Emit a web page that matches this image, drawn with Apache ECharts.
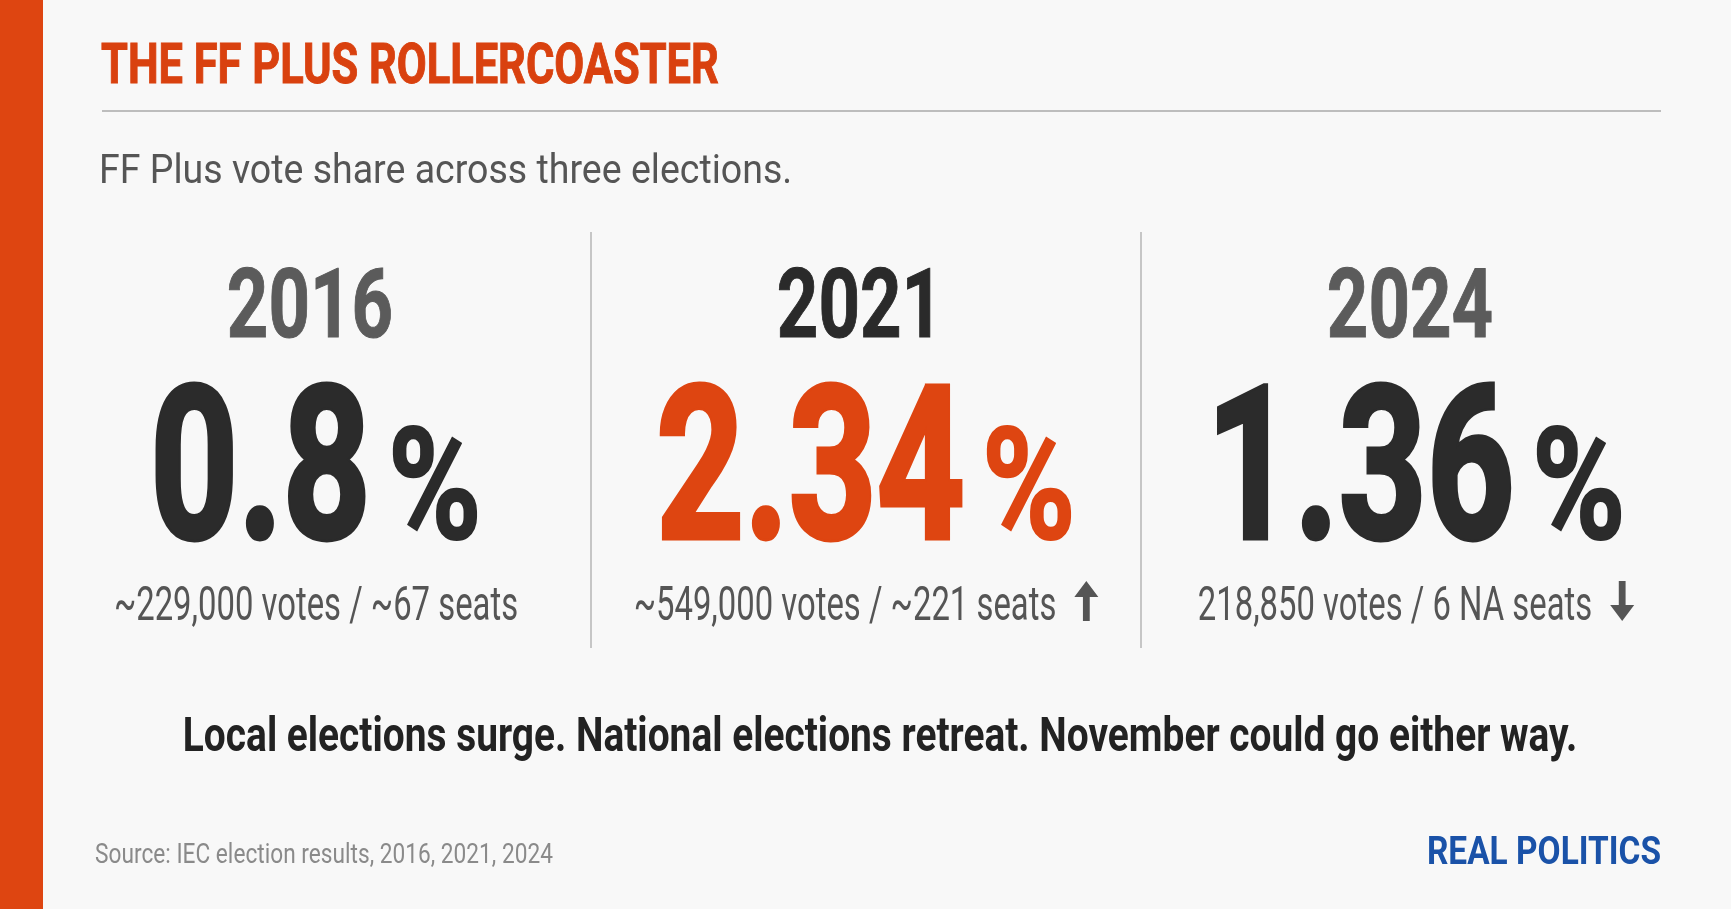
<!DOCTYPE html>
<html>
<head>
<meta charset="utf-8">
<script src="https://cdn.jsdelivr.net/npm/echarts@6/dist/echarts.min.js"></script>
<style>
html,body{margin:0;padding:0;background:#f8f8f8;}
#chart{width:1731px;height:909px;}
</style>
</head>
<body>
<div id="chart"></div>
<script>
// ---- data ----
const years = ['2016', '2021', '2024'];
const voteShare = [0.8, 2.34, 1.36];
const votesSeats = ['~229,000 votes / ~67 seats', '~549,000 votes / ~221 seats', '218,850 votes / 6 NA seats'];
const titleText = 'THE FF PLUS ROLLERCOASTER';
const introText = 'FF Plus vote share across three elections.';
const takeawayText = 'Local elections surge. National elections retreat. November could go either way.';
const sourceText = 'Source: IEC election results, 2016, 2021, 2024';
const brandText = 'REAL POLITICS';

// ---- helpers ----
const FAM = 'Roboto, "Noto Sans", sans-serif';
const mctx = document.createElement('canvas').getContext('2d');
function textW(t, font) { mctx.font = font; mctx.textBaseline = 'middle'; return mctx.measureText(t).width; }
function midY(baseline, font) {
  mctx.font = font; mctx.textBaseline = 'middle';
  const m = mctx.measureText('H');
  return baseline - m.actualBoundingBoxDescent;
}
function txt(text, x, baseline, font, fill, align, sx, strokeW) {
  const st = { text: text, x: 0, y: 0, font: font, fill: fill,
    align: align, textAlign: align, verticalAlign: 'middle', textVerticalAlign: 'middle' };
  if (strokeW) { st.stroke = fill; st.lineWidth = strokeW; st.lineJoin = 'round'; }
  return { type: 'text', x: x, y: midY(baseline, font), scaleX: sx, scaleY: 1, style: st };
}

const peakIdx = voteShare.indexOf(Math.max.apply(null, voteShare));

const ORANGE = '#de4511';
const F_YEAR = 'bold 96px ' + FAM, SX_YEAR = 0.755;
const F_NUM = 'bold 213px ' + FAM, F_PCT = 'bold 155px ' + FAM, SX_NUM = 0.72, SX_PCT = 0.82;
const F_SUB = '49px ' + FAM, SX_SUB = 0.67;

function renderItem(params, api) {
  const i = api.value(0);
  const v = api.value(1);
  const cs = params.coordSys;
  const cx = api.coord([i, v])[0];
  const band = api.size([1, 0])[0];
  const peak = i === peakIdx;
  const ch = [];
  if (i > 0) {
    ch.push({ type: 'line', shape: { x1: cx - band / 2, y1: cs.y, x2: cx - band / 2, y2: cs.y + cs.height },
      style: { stroke: '#c6c6c6', lineWidth: 2 } });
  }
  // year
  ch.push(txt(years[i], cx - 6, 337, F_YEAR, peak ? '#2a2a2a' : '#5b5b5b', 'center', SX_YEAR, 1));
  // big value + %
  const numStr = String(v);
  const wn = textW(numStr, F_NUM) * SX_NUM;
  const wp = textW('%', F_PCT) * SX_PCT;
  const gap = 17;
  const left = cx - (wn + gap + wp) / 2;
  const numColor = peak ? ORANGE : '#2b2b2b';
  ch.push(txt(numStr, left, 538, F_NUM, numColor, 'left', SX_NUM, 5));
  ch.push(txt('%', left + wn + gap, 538, F_PCT, numColor, 'left', SX_PCT, 2));
  // votes / seats + trend arrow
  const trend = i === 0 ? 0 : (v > voteShare[i - 1] ? 1 : (v < voteShare[i - 1] ? -1 : 0));
  const ws = textW(votesSeats[i], F_SUB) * SX_SUB;
  const aGap = 18, aW = 24;
  const total = ws + (trend !== 0 ? aGap + aW : 0);
  const sl = cx - total / 2;
  ch.push(txt(votesSeats[i], sl, 620, F_SUB, '#555555', 'left', SX_SUB));
  if (trend !== 0) {
    const ax = sl + ws + aGap + aW / 2;
    const top = 581, bot = 621, hw = aW / 2, sw = 3.4, hh = 16;
    let pts;
    if (trend > 0) {
      pts = [[ax, top], [ax + hw, top + hh], [ax + sw, top + hh], [ax + sw, bot], [ax - sw, bot], [ax - sw, top + hh], [ax - hw, top + hh]];
    } else {
      pts = [[ax, bot], [ax + hw, bot - hh], [ax + sw, bot - hh], [ax + sw, top], [ax - sw, top], [ax - sw, bot - hh], [ax - hw, bot - hh]];
    }
    ch.push({ type: 'polygon', shape: { points: pts }, style: { fill: '#555555' } });
  }
  return { type: 'group', children: ch };
}

const chart = echarts.init(document.getElementById('chart'), null, { renderer: 'canvas' });
chart.setOption({
  backgroundColor: '#f8f8f8',
  animation: false,
  grid: { left: 41, right: 40, top: 232, bottom: 261, show: false },
  xAxis: { type: 'category', data: years, show: false },
  yAxis: { type: 'value', min: 0, max: 3, show: false },
  series: [{
    type: 'custom',
    renderItem: renderItem,
    data: voteShare.map(function (v, i) { return [i, v]; }),
    silent: true
  }],
  graphic: { elements: [
    { type: 'rect', shape: { x: 0, y: 0, width: 43, height: 909 }, style: { fill: ORANGE } },
    txt(titleText, 101, 83, 'bold 56px ' + FAM, '#d9410f', 'left', 0.775, 1),
    { type: 'line', shape: { x1: 102, y1: 111, x2: 1661, y2: 111 }, style: { stroke: '#bdbdbd', lineWidth: 2 } },
    txt(introText, 99, 183, '41px ' + FAM, '#555555', 'left', 0.915),
    txt(takeawayText, 880, 751, 'bold 48px ' + FAM, '#222222', 'center', 0.81),
    txt(sourceText, 95, 863, '28px ' + FAM, '#8a8a8a', 'left', 0.81),
    txt(brandText, 1661, 864, 'bold 38px ' + FAM, '#1a52a8', 'right', 0.88)
  ] }
});
</script>
</body>
</html>
